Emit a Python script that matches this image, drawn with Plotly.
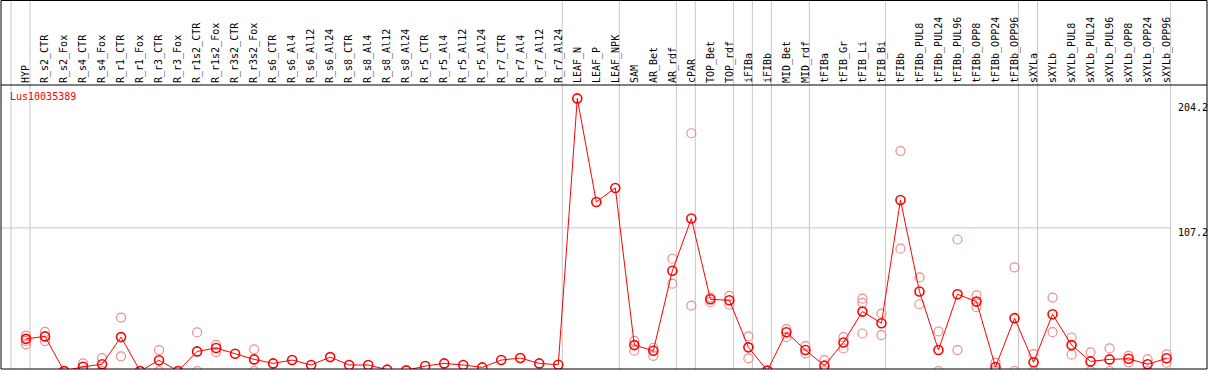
import plotly.graph_objects as go

categories = [
    "HYP", "R_s2_CTR", "R_s2_Fox", "R_s4_CTR", "R_s4_Fox", "R_r1_CTR", "R_r1_Fox",
    "R_r3_CTR", "R_r3_Fox", "R_r1s2_CTR", "R_r1s2_Fox", "R_r3s2_CTR", "R_r3s2_Fox",
    "R_s6_CTR", "R_s6_Al4", "R_s6_Al12", "R_s6_Al24", "R_s8_CTR", "R_s8_Al4",
    "R_s8_Al12", "R_s8_Al24", "R_r5_CTR", "R_r5_Al4", "R_r5_Al12", "R_r5_Al24",
    "R_r7_CTR", "R_r7_Al4", "R_r7_Al12", "R_r7_Al24", "LEAF_N", "LEAF_P", "LEAF_NPK",
    "SAM", "AR_Bet", "AR_rdf", "cPAR", "TOP_Bet", "TOP_rdf", "iFIBa", "iFIBb",
    "MID_Bet", "MID_rdf", "tFIBa", "tFIB_Gr", "tFIB_Li", "tFIB_Bi", "tFIBb",
    "tFIBb_PUL8", "tFIBb_PUL24", "tFIBb_PUL96", "tFIBb_OPP8", "tFIBb_OPP24",
    "tFIBb_OPP96", "sXYLa", "sXYLb", "sXYLb_PUL8", "sXYLb_PUL24", "sXYLb_PUL96",
    "sXYLb_OPP8", "sXYLb_OPP24", "sXYLb_OPP96",
]

mean_values = [
    24.1, 25.9, 0.0, 3.2, 5.0, 25.4, 0.0, 8.0, 0.0, 14.7, 17.2, 12.9, 8.7,
    5.7, 8.2, 4.5, 10.4, 4.5, 4.5, 1.0, 0.5, 3.7, 5.7, 4.5, 2.7,
    8.2, 9.7, 5.7, 4.7, 204.2, 126.6, 137.1,
    19.4, 15.2, 75.1, 114.2, 53.7, 53.0, 17.7, 0.3,
    29.0, 15.7, 4.0, 21.4, 44.5, 35.8, 128.1,
    59.5, 15.7, 57.5, 52.0, 3.0, 39.6,
    6.5, 42.5, 19.4, 7.2, 8.7, 9.2, 5.0, 9.5,
]

replicate_values = [
    [26.5, 22.5, 20.0], [29.3, 22.4], [0, 0], [5.7, 0], [9.7, 0], [40.0, 11.0], [0],
    [15.7, 0], [0], [28.9, 0], [19.6, 14.2], [], [16.2, 0],
    [], [], [], [], [], [], [], [], [], [], [], [],
    [], [], [], [], [], [], [],
    [22.6, 15.2], [17.4, 11.4], [84.1, 65.4], [178.1, 49.0], [51.7, 55.0], [56.2, 49.7],
    [25.9, 9.5], [],
    [31.3, 25.3], [18.7, 13.2], [8.2, 0], [25.4, 16.9], [54.2, 51.0, 28.1], [43.0, 26.9],
    [164.7, 91.6],
    [70.1, 50.0], [29.6, 0], [98.5, 15.7], [56.7, 47.8], [6.2, 0], [77.6, 0],
    [12.7, 0], [55.0, 29.1], [25.1, 12.2], [14.0, 0], [16.9, 0], [11.4, 6.5], [8.7, 0],
    [12.5, 6.2],
]

# index of last category in each group (-1 = left edge)
group_ends = [-1, 0, 28, 31, 34, 35, 37, 38, 39, 41, 45, 52, 53, 60]
gene_name = "Lus10035389"
axis_labels = [204.2, 107.2, 0]

x_idx = list(range(len(categories)))
rep_x, rep_y = [], []
for i, reps in enumerate(replicate_values):
    for v in reps:
        rep_x.append(i)
        rep_y.append(v)

FONT = "DejaVu Sans Mono"
PLOT_H = 284
TOP = 85
top_paper = 1 + TOP / PLOT_H
grid_off = 0.21
X_RANGE = [-1.315, 62.125]

fig = go.Figure()
fig.add_trace(go.Scatter(
    x=rep_x, y=rep_y, mode="markers",
    marker=dict(symbol="circle-open", size=9, color="rgb(238,140,140)",
                line=dict(width=1.2, color="rgb(238,140,140)")),
    hoverinfo="skip", showlegend=False,
))
fig.add_trace(go.Scatter(
    x=x_idx, y=mean_values, mode="lines+markers",
    line=dict(color="#ff0000", width=1),
    marker=dict(symbol="circle-open", size=9, color="#ff0000",
                line=dict(width=1.6, color="#ff0000")),
    showlegend=False,
))

shapes = []
for g in group_ends:
    shapes.append(dict(type="line", xref="x", yref="paper",
                       x0=g + grid_off, x1=g + grid_off, y0=0, y1=top_paper,
                       line=dict(color="#c8c8c8", width=1), layer="below"))
shapes.append(dict(type="line", xref="x", yref="y", x0=X_RANGE[0],
                   x1=group_ends[-1] + grid_off, y0=axis_labels[1], y1=axis_labels[1],
                   line=dict(color="#c8c8c8", width=1), layer="below"))
# frame
shapes.append(dict(type="rect", xref="paper", yref="paper", x0=0, x1=1,
                   y0=0, y1=1 + (TOP - 0.5) / PLOT_H,
                   line=dict(color="black", width=1)))
shapes.append(dict(type="line", xref="paper", yref="paper", x0=0, x1=1,
                   y0=1, y1=1, line=dict(color="black", width=1)))

annotations = [dict(text=gene_name, xref="paper", yref="paper", x=0, y=1,
                    xanchor="left", yanchor="middle", xshift=7, yshift=-11.5,
                    showarrow=False, font=dict(family=FONT, size=10, color="#ff0000"))]
shifts = [-9, -5, 9]
for v, s in zip(axis_labels, shifts):
    annotations.append(dict(text=str(v), xref="x", yref="y",
                            x=group_ends[-1] + grid_off, y=v, xanchor="left",
                            yanchor="middle", xshift=6, yshift=s, showarrow=False,
                            borderpad=0,
                            font=dict(family=FONT, size=10, color="black")))

fig.update_layout(
    width=1209, height=370,
    margin=dict(l=1, r=2, t=TOP, b=1, autoexpand=False),
    paper_bgcolor="white", plot_bgcolor="white",
    xaxis=dict(range=X_RANGE, side="top", tickmode="array",
               tickvals=x_idx, ticktext=categories, tickangle=-90,
               tickfont=dict(family=FONT, size=10, color="black"),
               showgrid=False, zeroline=False, ticks="", showline=False,
               ticklabelstandoff=1, automargin=False),
    yaxis=dict(range=[1.498, 214.23], showgrid=False, zeroline=False,
               showticklabels=False, ticks="", showline=False, automargin=False),
    shapes=shapes, annotations=annotations,
    hovermode=False,
)
fig.write_html("out.html", config={"displayModeBar": False},
               post_script="document.body.style.margin='0';document.body.style.overflow='hidden';")
